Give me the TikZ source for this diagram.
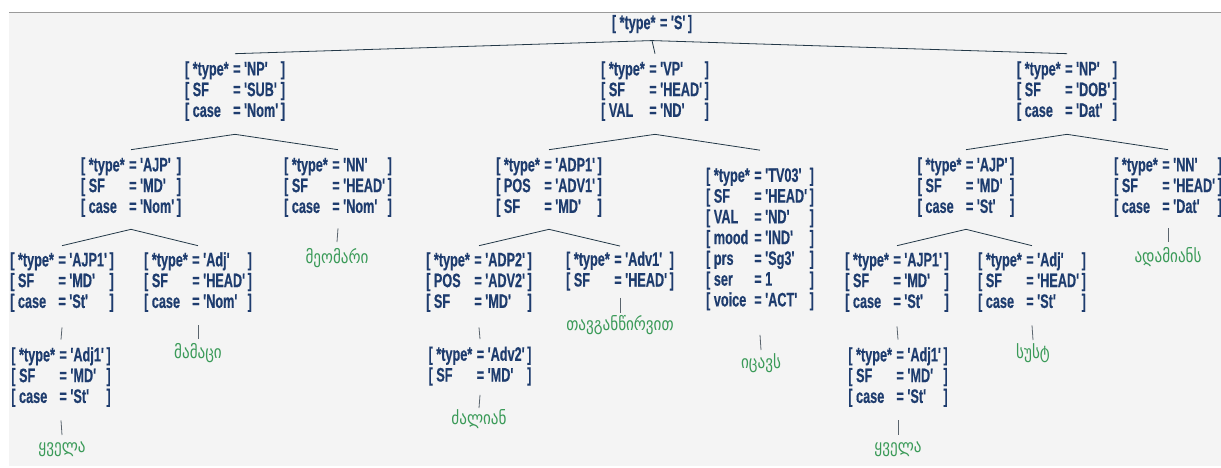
\documentclass[tikz,border=0pt]{standalone}
\usepackage{fontspec}
\usetikzlibrary{calc}
\newfontfamily\fsfont[FakeStretch=0.65,FakeBold=0.4]{Liberation Sans}
\newfontfamily\geofont[FakeStretch=0.84]{DejaVu Sans}
\definecolor{panelbg}{HTML}{F4F4F4}
\definecolor{rulegray}{HTML}{9A9A9A}
\definecolor{featblue}{HTML}{1E3C6E}
\definecolor{wordgreen}{HTML}{3A9A58}
\definecolor{branchcol}{HTML}{233847}
\definecolor{stemcol}{HTML}{5A646D}
% one feature row: [ key = value ]
\newcommand\fr[2]{{[}\ #1 & =\ #2 & ]}
% a feature structure as an aligned block
\newcommand\fs[1]{\begin{tabular}{@{}l@{\hspace{4.5pt}}l@{\hspace{2.5pt}}l@{}}#1\end{tabular}}
\tikzset{
  feat/.style={text=featblue, inner sep=0pt, font=\fsfont\bfseries\fontsize{19.5}{20.75}\selectfont},
  word/.style={text=wordgreen, inner sep=0pt, anchor=base, font=\geofont\fontsize{18}{20}\selectfont},
  branch/.style={draw=branchcol, line width=0.8pt},
  stem/.style={draw=stemcol, line width=0.8pt},
}
\begin{document}
\begin{tikzpicture}[x=1pt,y=-1pt]
\useasboundingbox (0,0) rectangle (1221,467);
\fill[panelbg] (9,12) rectangle (1221,466);
\draw[rulegray, line width=1pt] (9,12) -- (1221,12);

% sentence
\node[feat] (root) at (652,25) {\fs{\fr{*type*}{'S'}}};

% subject noun phrase
\node[feat] (npsub) at (235,92) {\fs{\fr{*type*}{'NP'}\\ \fr{SF}{'SUB'}\\ \fr{case}{'Nom'}}};
\node[feat] (ajpL) at (131,188) {\fs{\fr{*type*}{'AJP'}\\ \fr{SF}{'MD'}\\ \fr{case}{'Nom'}}};
\node[feat] (nnL) at (338,188) {\fs{\fr{*type*}{'NN'}\\ \fr{SF}{'HEAD'}\\ \fr{case}{'Nom'}}};
\node[feat] (ajp1L) at (62,283) {\fs{\fr{*type*}{'AJP1'}\\ \fr{SF}{'MD'}\\ \fr{case}{'St'}}};
\node[feat] (adjL) at (198,283) {\fs{\fr{*type*}{'Adj'}\\ \fr{SF}{'HEAD'}\\ \fr{case}{'Nom'}}};
\node[feat] (adj1L) at (61,378) {\fs{\fr{*type*}{'Adj1'}\\ \fr{SF}{'MD'}\\ \fr{case}{'St'}}};

% verb phrase
\node[feat] (vp) at (655,92) {\fs{\fr{*type*}{'VP'}\\ \fr{SF}{'HEAD'}\\ \fr{VAL}{'ND'}}};
\node[feat] (adp1) at (549,188) {\fs{\fr{*type*}{'ADP1'}\\ \fr{POS}{'ADV1'}\\ \fr{SF}{'MD'}}};
\node[feat] (tv03) at (760,240) {\fs{\fr{*type*}{'TV03'}\\ \fr{SF}{'HEAD'}\\ \fr{VAL}{'ND'}\\ \fr{mood}{'IND'}\\ \fr{prs}{'Sg3'}\\ \fr{ser}{1}\\ \fr{voice}{'ACT'}}};
\node[feat] (adp2) at (479,283) {\fs{\fr{*type*}{'ADP2'}\\ \fr{POS}{'ADV2'}\\ \fr{SF}{'MD'}}};
\node[feat] (adv1) at (620,272) {\fs{\fr{*type*}{'Adv1'}\\ \fr{SF}{'HEAD'}}};
\node[feat] (adv2) at (480,367) {\fs{\fr{*type*}{'Adv2'}\\ \fr{SF}{'MD'}}};

% object noun phrase
\node[feat] (npdob) at (1067,92) {\fs{\fr{*type*}{'NP'}\\ \fr{SF}{'DOB'}\\ \fr{case}{'Dat'}}};
\node[feat] (ajpR) at (966,188) {\fs{\fr{*type*}{'AJP'}\\ \fr{SF}{'MD'}\\ \fr{case}{'St'}}};
\node[feat] (nnR) at (1168,188) {\fs{\fr{*type*}{'NN'}\\ \fr{SF}{'HEAD'}\\ \fr{case}{'Dat'}}};
\node[feat] (ajp1R) at (897,283) {\fs{\fr{*type*}{'AJP1'}\\ \fr{SF}{'MD'}\\ \fr{case}{'St'}}};
\node[feat] (adjR) at (1032,283) {\fs{\fr{*type*}{'Adj'}\\ \fr{SF}{'HEAD'}\\ \fr{case}{'St'}}};
\node[feat] (adj1R) at (898,378) {\fs{\fr{*type*}{'Adj1'}\\ \fr{SF}{'MD'}\\ \fr{case}{'St'}}};

% words
\node[word] (meomari) at (337,263) {მეომარი};
\node[word] (mamaci) at (198,358) {მამაცი};
\node[word] (qvelaL) at (62,452) {ყველა};
\node[word] (tavg) at (620,330) {თავგანწირვით};
\node[word] (dzalian) at (479,424) {ძალიან};
\node[word] (icavs) at (761,368) {იცავს};
\node[word] (sust) at (1033,358) {სუსტ};
\node[word] (adamians) at (1168,262) {ადამიანს};
\node[word] (qvelaR) at (898,452) {ყველა};

% branches
\draw[branch] ($(root.south)+(0,5)$) -- ($(npsub.north)+(0,-7)$);
\draw[branch] ($(root.south)+(0,5)$) -- ($(vp.north)+(0,-7)$);
\draw[branch] ($(root.south)+(0,5)$) -- ($(npdob.north)+(0,-7)$);

\draw[branch] ($(npsub.south)+(0,11)$) -- ($(ajpL.north)+(0,-7)$);
\draw[branch] ($(npsub.south)+(0,11)$) -- ($(nnL.north)+(0,-7)$);
\draw[branch] ($(vp.south)+(0,11)$) -- ($(adp1.north)+(0,-7)$);
\draw[branch] ($(vp.south)+(0,11)$) -- ($(tv03.north)+(0,-17)$);
\draw[branch] ($(npdob.south)+(0,11)$) -- ($(ajpR.north)+(0,-7)$);
\draw[branch] ($(npdob.south)+(0,11)$) -- ($(nnR.north)+(0,-7)$);

\draw[branch] ($(ajpL.south)+(0,10)$) -- ($(ajp1L.north)+(0,-6)$);
\draw[branch] ($(ajpL.south)+(0,10)$) -- ($(adjL.north)+(0,-6)$);
\draw[branch] ($(adp1.south)+(0,10)$) -- ($(adp2.north)+(0,-6)$);
\draw[branch] ($(adp1.south)+(0,10)$) -- ($(adv1.north)+(0,-5)$);
\draw[branch] ($(ajpR.south)+(0,10)$) -- ($(ajp1R.north)+(0,-6)$);
\draw[branch] ($(ajpR.south)+(0,10)$) -- ($(adjR.north)+(0,-6)$);

% single-child stems
\draw[stem] ($(ajp1L.south)+(0,13)$) -- ($(adj1L.north)+(0,-7)$);
\draw[stem] ($(adp2.south)+(0,13)$) -- ($(adv2.north)+(0,-7)$);
\draw[stem] ($(ajp1R.south)+(0,12)$) -- ($(adj1R.north)+(0,-7)$);

% stems down to the words
\draw[stem] ($(nnL.south)+(0,9)$) -- ($(meomari.base)+(0,-21)$);
\draw[stem] ($(nnR.south)+(0,9)$) -- ($(adamians.base)+(0,-20)$);
\draw[stem] ($(adjL.south)+(0,11)$) -- ($(mamaci.base)+(0,-19)$);
\draw[stem] ($(adjR.south)+(0,11)$) -- ($(sust.base)+(0,-18)$);
\draw[stem] ($(tv03.south)+(0,22)$) -- ($(icavs.base)+(0,-18)$);
\draw[stem] ($(adv1.south)+(0,5)$) -- ($(tavg.base)+(0,-17)$);
\draw[stem] ($(adv2.south)+(0,7)$) -- ($(dzalian.base)+(0,-16)$);
\draw[stem] ($(adj1L.south)+(0,11)$) -- ($(qvelaL.base)+(0,-17)$);
\draw[stem] ($(adj1R.south)+(0,11)$) -- ($(qvelaR.base)+(0,-17)$);
\end{tikzpicture}
\end{document}
